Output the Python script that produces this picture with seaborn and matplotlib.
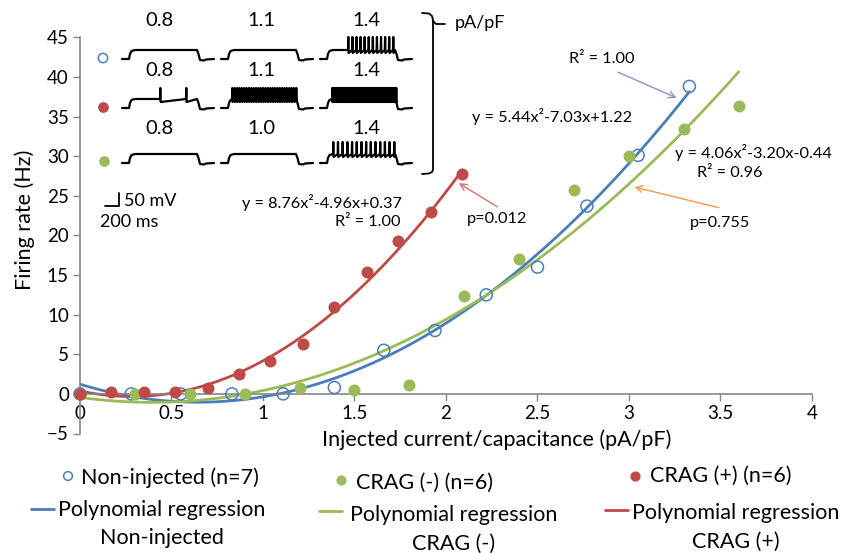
import numpy as np
import seaborn as sns
import matplotlib.pyplot as plt

# firing rate (Hz) vs injected current density (pA/pF)
noninj_x = [0, 0.28, 0.55, 0.83, 1.11, 1.39, 1.66, 1.94, 2.22, 2.50, 2.77, 3.05, 3.33]
noninj_y = [0, 0, 0, 0, 0, 0.8, 5.5, 8.0, 12.5, 16.0, 23.7, 30.1, 38.8]
crag_neg_x = [0, 0.30, 0.60, 0.90, 1.20, 1.50, 1.80, 2.10, 2.40, 2.70, 3.00, 3.30, 3.60]
crag_neg_y = [0, 0, 0, 0, 0.8, 0.5, 1.1, 12.3, 17.0, 25.7, 30.0, 33.4, 36.3]
crag_pos_x = [0, 0.17, 0.35, 0.52, 0.70, 0.87, 1.04, 1.22, 1.39, 1.57, 1.74, 1.92, 2.09]
crag_pos_y = [0, 0.2, 0.3, 0.3, 0.7, 2.5, 4.2, 6.3, 11.0, 15.4, 19.3, 23.0, 27.7]

# quadratic fits as printed on the chart (a, b, c)
fit_noninj = [5.44, -7.03, 1.22]
fit_crag_neg = [4.06, -3.20, -0.44]
fit_crag_pos = [8.76, -4.96, 0.37]

# example traces in the inset
stim_labels = [['0.8', '1.1', '1.4'], ['0.8', '1.1', '1.4'], ['0.8', '1.0', '1.4']]
spike_counts = [[0, 0, 12], [2, 28, 90], [0, 0, 14]]

blue, green, red = '#4A7EBB', '#9BBB59', '#BE4B48'

sns.set_theme(style='white')
plt.rcParams['font.family'] = ['Lato', 'DejaVu Sans']

W, H = 845, 553
fig = plt.figure(figsize=(W / 100, H / 100), dpi=100)
ax = fig.add_axes([80 / W, 1 - 433.5 / H, 732 / W, 396.2 / H])

groups = [
    (noninj_x, noninj_y, fit_noninj, blue, True),
    (crag_neg_x, crag_neg_y, fit_crag_neg, green, False),
    (crag_pos_x, crag_pos_y, fit_crag_pos, red, False),
]
for x, y, coef, col, hollow in groups:
    xs = np.linspace(min(x), max(x), 200)
    sns.lineplot(x=xs, y=np.polyval(coef, xs), ax=ax, color=col, lw=2)
for x, y, coef, col, hollow in groups:
    if hollow:
        sns.scatterplot(x=x, y=y, ax=ax, s=75, edgecolor=col, linewidth=1.1,
                        clip_on=False, zorder=3)
        ax.collections[-1].set_facecolor('none')
    else:
        sns.scatterplot(x=x, y=y, ax=ax, s=75, color=col, linewidth=0,
                        clip_on=False, zorder=3)

ax.set_xlim(0, 4)
ax.set_ylim(-5, 45)
xt = np.arange(0, 4.01, 0.5)
ax.set_xticks(xt)
ax.set_xticklabels([f'{v:g}' for v in xt])
ax.set_yticks(range(-5, 46, 5))
for s in ['top', 'right']:
    ax.spines[s].set_visible(False)
ax.spines['bottom'].set_position(('data', 0))
for s in ['left', 'bottom']:
    ax.spines[s].set_color('#868686')
    ax.spines[s].set_linewidth(1.2)
ax.tick_params(bottom=True, left=True, direction='out', length=5, width=1,
               color='#868686', labelsize=13.5, labelcolor='black', pad=3)

ax.set_xlabel('Injected current/capacitance (pA/pF)', fontsize=15.5, color='black')
ax.set_ylabel('Firing rate (Hz)', fontsize=15.5, color='black')
ax.xaxis.label.set_va('center')
ax.yaxis.label.set_va('center')
ax.xaxis.set_label_coords((497 - 80) / 732, (433.5 - 440) / 396.2)
ax.yaxis.set_label_coords((25 - 80) / 732, (433.5 - 220) / 396.2)

# fit equations and p-values
tk = dict(fontsize=11.7, va='center', color='black')
ax.text(2.85, 42.3, 'R² = 1.00', ha='center', **tk)
ax.text(2.58, 35.0, 'y = 5.44x²-7.03x+1.22', ha='center', **tk)
ax.text(3.68, 30.4, 'y = 4.06x²-3.20x-0.44', ha='center', **tk)
ax.text(3.55, 27.9, 'R² = 0.96', ha='center', **tk)
ax.text(3.50, 21.6, 'p=0.755', ha='center', **tk)
ax.text(2.28, 22.1, 'p=0.012', ha='center', **tk)
ax.text(1.32, 24.1, 'y = 8.76x²-4.96x+0.37', ha='center', **tk)
ax.text(1.75, 21.7, 'R² = 1.00', ha='right', **tk)
for head, tail, c in [((3.26, 37.35), (2.94, 40.6), '#9E86C8'),
                      ((3.03, 26.1), (3.49, 23.5), '#F79646'),
                      ((2.07, 26.6), (2.28, 23.6), '#D9716E')]:
    ax.annotate('', xy=head, xytext=tail,
                arrowprops=dict(arrowstyle='->', color=c, lw=1, shrinkA=0, shrinkB=0))

# overlay in pixel units for the inset and the legend
ov = fig.add_axes([0, 0, 1, 1], zorder=5)
ov.set_xlim(0, W)
ov.set_ylim(H, 0)
ov.axis('off')

row_base = [59, 108, 163]
row_spike = [13, 11, 12]
label_y = [20, 70, 128]
col_x0 = [122, 221, 320]
label_x = [160, 261, 366]
windows = [[None, None, (28, 73)], [(38, 64), (11, 75), (12, 76)], [None, None, (13, 74)]]


def draw_trace(x0, yb, n, win, sp):
    h = 9
    xs = [x0, x0 + 7, x0 + 8, x0 + 9.5, x0 + 13]
    ys = [yb, yb, yb - 5, yb - 8, yb - h]
    if n:
        for s in np.linspace(x0 + win[0], x0 + win[1], n):
            xs += [s, s + 0.3, s + 0.6]
            ys += [yb - h, yb - h - sp, yb - h + 3]
    xs += [x0 + 75, x0 + 76.5, x0 + 78, x0 + 82, x0 + 84, x0 + 92]
    ys += [yb - h, yb - 5, yb + 1, yb + 1.5, yb + 0.5, yb]
    ov.plot(xs, ys, color='black', lw=1.6, solid_joinstyle='round')


for r in range(3):
    for c in range(3):
        draw_trace(col_x0[c], row_base[r], spike_counts[r][c], windows[r][c], row_spike[r])
        ov.text(label_x[c], label_y[r], stim_labels[r][c], ha='center', va='center',
                fontsize=14.5, color='black')

ov.scatter([103], [58], s=45, facecolor='none', edgecolor=blue, linewidth=1.1)
ov.scatter([103], [107], s=45, color=red)
ov.scatter([104], [161], s=45, color=green)

# bracket and units
ov.plot([422, 429, 432, 433, 433, 432, 429, 422], [13, 13.5, 16, 20, 170, 172, 173.5, 174],
        color='black', lw=1.3)
ov.plot([433, 436, 445], [21, 24, 24], color='black', lw=1.3)
ov.text(455, 23, 'pA/pF', ha='left', va='center', fontsize=13, color='black')

# scale bar
ov.plot([105, 119, 119], [206, 206, 193], color='black', lw=1.3)
ov.text(124, 201, '50 mV', ha='left', va='center', fontsize=13, color='black')
ov.text(100, 222, '200 ms', ha='left', va='center', fontsize=13, color='black')

# legend
lk = dict(fontsize=15.5, color='black', va='center', ha='left')
for mx, my, tx, ty, col, hollow, name in [(68, 476, 81, 478, blue, True, 'Non-injected (n=7)'),
                                          (341, 480, 356, 483, green, False, 'CRAG (-) (n=6)'),
                                          (635, 476, 650, 476, red, False, 'CRAG (+) (n=6)')]:
    if hollow:
        ov.scatter([mx], [my], s=40, facecolor='none', edgecolor=col, linewidth=1.1)
    else:
        ov.scatter([mx], [my], s=40, color=col)
    ov.text(tx, ty, name, **lk)
for lx, ly, tx, ty, col, name in [(31, 509, 58, 524, blue, 'Non-injected'),
                                  (319, 511, 350, 529, green, 'CRAG (-)'),
                                  (605, 510, 632, 527, red, 'CRAG (+)')]:
    ov.plot([lx, lx + 23], [ly, ly], color=col, lw=2)
    ov.text(tx, ty, 'Polynomial regression\n' + name, multialignment='center',
            linespacing=1.55, **lk)

fig.savefig('out.png', dpi=100)
